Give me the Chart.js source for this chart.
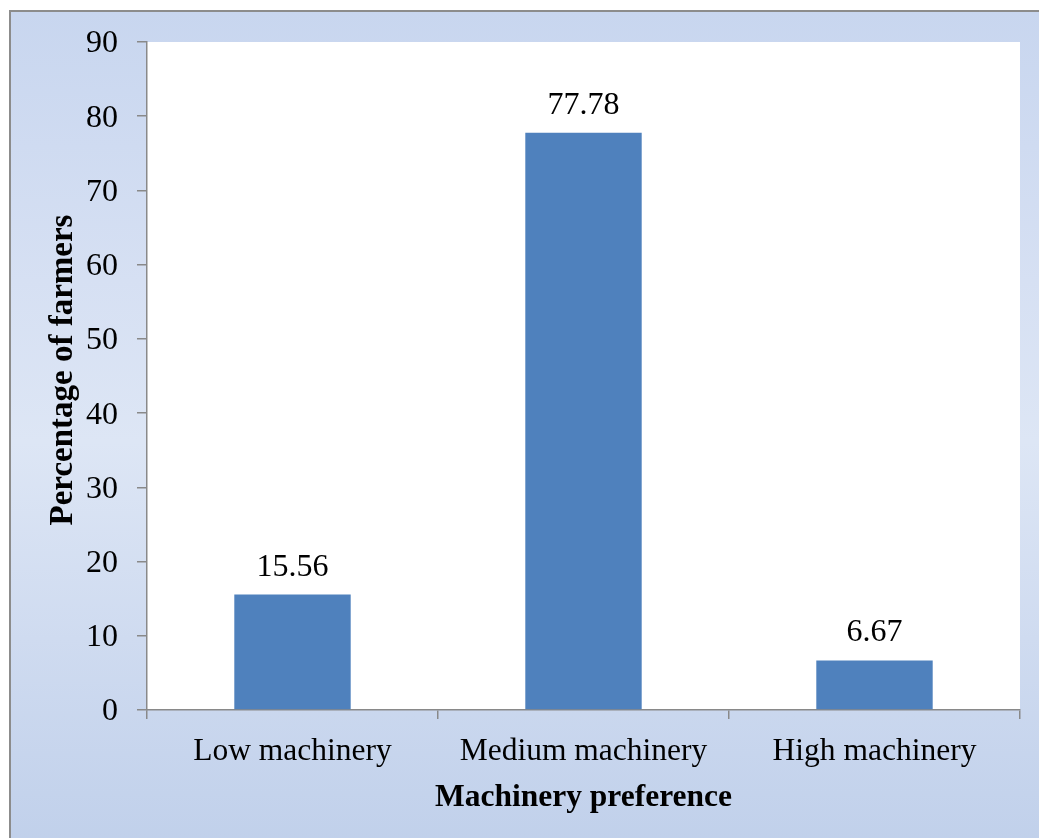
<!DOCTYPE html>
<html>
<head>
<meta charset="utf-8">
<script src="https://cdn.jsdelivr.net/npm/chart.js@4"></script>
<style>
  html, body { margin: 0; padding: 0; background: #ffffff; overflow: hidden; }
  #frame {
    position: absolute; left: 9px; top: 10px; width: 1100px; height: 900px;
    border: 2px solid #8c8c8c; box-sizing: border-box;
    background: linear-gradient(to bottom, #c8d6ef 0%, #d6e0f3 30%, #dde6f5 48%, #cfdbf0 70%, #bccde9 100%);
  }
  #wrap { position: absolute; left: 0; top: 0; width: 1039px; height: 838px; }
</style>
</head>
<body>
<div id="frame"></div>
<div id="wrap"><canvas id="chart" width="1039" height="838"></canvas></div>
<script>
// Share of farmers by preferred level of machinery
const categories = ['Low machinery', 'Medium machinery', 'High machinery'];
const percentages = [15.56, 77.78, 6.67];
const yTicks = [0, 10, 20, 30, 40, 50, 60, 70, 80, 90];
const yTitle = 'Percentage of farmers';
const xTitle = 'Machinery preference';

const serif = '"Liberation Serif", "Times New Roman", serif';
const axisGray = '#898989';

// White plot area behind the bars
const plotBackground = {
  id: 'plotBackground',
  beforeDraw(chart) {
    const { ctx, chartArea: a } = chart;
    ctx.save();
    ctx.fillStyle = '#ffffff';
    ctx.fillRect(a.left, a.top, a.right - a.left, a.bottom - a.top);
    ctx.restore();
  }
};

// Value printed above each bar, plus the rotated value-axis title
const valueLabels = {
  id: 'valueLabels',
  afterDatasetsDraw(chart) {
    const { ctx } = chart;
    const meta = chart.getDatasetMeta(0);
    ctx.save();
    ctx.font = '32px ' + serif;
    ctx.fillStyle = '#000000';
    ctx.textAlign = 'center';
    ctx.textBaseline = 'alphabetic';
    meta.data.forEach((bar, i) => {
      ctx.fillText(percentages[i].toFixed(2), bar.x, bar.y - 19);
    });
    ctx.restore();

    ctx.save();
    ctx.translate(63, 370);
    ctx.rotate(-Math.PI / 2);
    ctx.font = 'bold 33px ' + serif;
    ctx.fillStyle = '#000000';
    ctx.textAlign = 'center';
    ctx.textBaseline = 'middle';
    ctx.fillText(yTitle, 0, 0);
    ctx.restore();
  }
};

new Chart(document.getElementById('chart'), {
  type: 'bar',
  data: {
    labels: categories,
    datasets: [{
      data: percentages,
      backgroundColor: '#4f81bd',
      borderWidth: 0,
      categoryPercentage: 1.0,
      barPercentage: 0.4
    }]
  },
  options: {
    responsive: false,
    animation: false,
    events: [],
    layout: { padding: { left: 0, top: 42, right: 19, bottom: 0 } },
    plugins: { legend: { display: false }, tooltip: { enabled: false } },
    scales: {
      x: {
        grid: {
          offset: true,
          drawOnChartArea: false,
          drawTicks: true,
          tickLength: 9,
          color: axisGray,
          lineWidth: 1.5
        },
        border: { display: true, color: axisGray, width: 1.5 },
        ticks: {
          color: '#000000',
          font: { family: serif, size: 31.5 },
          padding: 14,
          maxRotation: 0,
          autoSkip: false
        },
        title: {
          display: true,
          text: xTitle,
          color: '#000000',
          font: { family: serif, size: 31.5, weight: 'bold' },
          padding: { top: 0, bottom: 21 }
        },
        afterFit(scale) { scale.height = 838 - 710; }
      },
      y: {
        min: 0,
        max: 90,
        afterBuildTicks(scale) { scale.ticks = yTicks.map(v => ({ value: v })); },
        grid: {
          drawOnChartArea: false,
          drawTicks: true,
          tickLength: 10,
          color: axisGray,
          lineWidth: 1.5
        },
        border: { display: true, color: axisGray, width: 1.5 },
        ticks: {
          color: '#000000',
          font: { family: serif, size: 32 },
          padding: 19,
          labelOffset: 2
        },
        title: { display: false },
        afterFit(scale) { scale.width = 147; }
      }
    }
  },
  plugins: [plotBackground, valueLabels]
});
</script>
</body>
</html>
